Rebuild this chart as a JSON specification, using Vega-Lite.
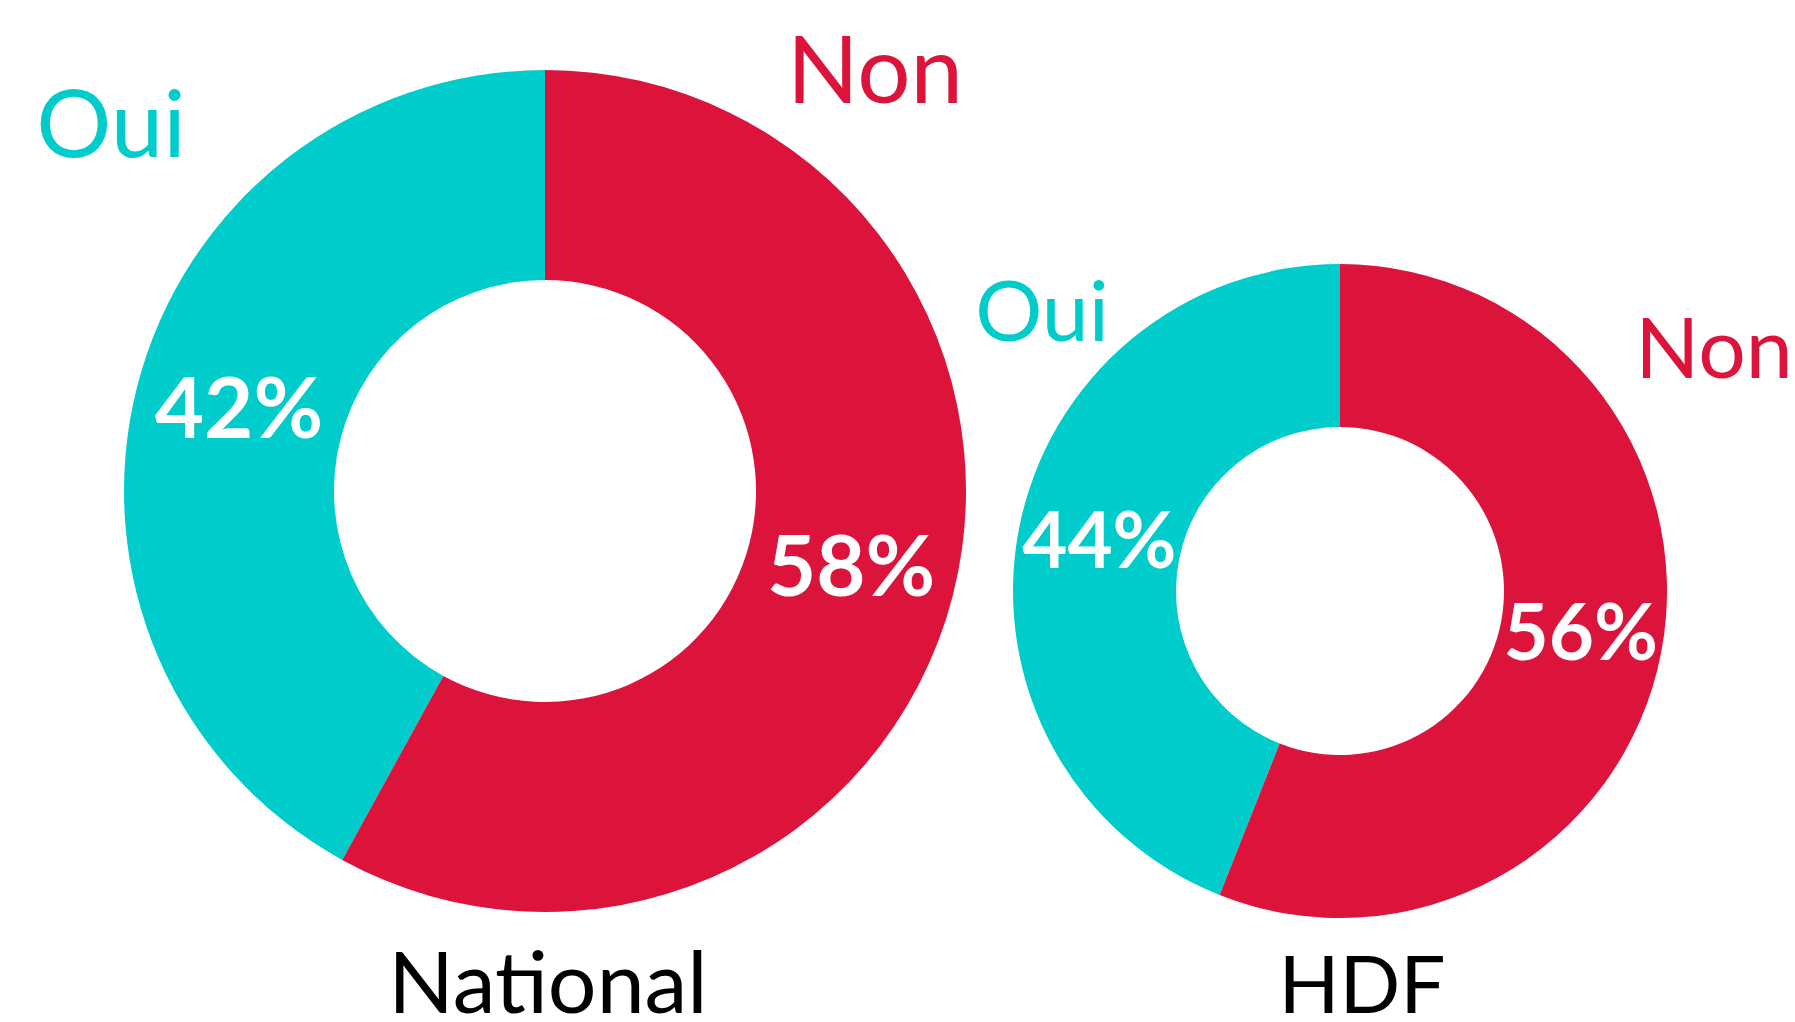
{
  "$schema": "https://vega.github.io/schema/vega-lite/v6.json",
  "autosize": {"type": "none"},
  "width": 1795,
  "height": 1022,
  "padding": 0,
  "background": "white",
  "config": {"view": {"stroke": null}, "font": "Lato"},
  "datasets": {
    "shares": [
      {"chart": "National", "answer": "Oui", "pct": 42, "cx": 545, "cy": 491},
      {"chart": "National", "answer": "Non", "pct": 58, "cx": 545, "cy": 491},
      {"chart": "HDF", "answer": "Oui", "pct": 44, "cx": 1340, "cy": 591},
      {"chart": "HDF", "answer": "Non", "pct": 56, "cx": 1340, "cy": 591}
    ],
    "labels": [
      {"chart": "National", "answer": "Oui", "lx": 111, "ly": 157},
      {"chart": "National", "answer": "Non", "lx": 875, "ly": 103},
      {"chart": "HDF", "answer": "Oui", "lx": 1042, "ly": 341},
      {"chart": "HDF", "answer": "Non", "lx": 1714, "ly": 378}
    ],
    "titles": [
      {"chart": "National", "tx": 548, "ty": 1013},
      {"chart": "HDF", "tx": 1362, "ty": 1013}
    ]
  },
  "resolve": {"scale": {"x": "shared", "y": "shared", "theta": "shared", "color": "shared"}},
  "layer": [
    {
      "data": {"name": "shares"},
      "transform": [{"filter": "datum.chart === 'National'"}],
      "mark": {"type": "arc", "radius": 421, "radius2": 211},
      "encoding": {
        "x": {"field": "cx", "type": "quantitative", "scale": {"domain": [0, 1795], "nice": false, "zero": false}, "axis": null},
        "y": {"field": "cy", "type": "quantitative", "scale": {"domain": [0, 1022], "nice": false, "zero": false, "reverse": true}, "axis": null},
        "theta": {"field": "pct", "type": "quantitative", "stack": true, "scale": {"domain": [0, 100]}},
        "color": {"field": "answer", "type": "nominal", "scale": {"domain": ["Oui", "Non"], "range": ["#00CCCC", "#DC143C"]}, "legend": null},
        "order": {"field": "answer", "sort": "ascending"}
      }
    },
    {
      "data": {"name": "shares"},
      "transform": [{"filter": "datum.chart === 'HDF'"}],
      "mark": {"type": "arc", "radius": 327, "radius2": 164},
      "encoding": {
        "x": {"field": "cx", "type": "quantitative"},
        "y": {"field": "cy", "type": "quantitative"},
        "theta": {"field": "pct", "type": "quantitative", "stack": true},
        "color": {"field": "answer", "type": "nominal", "legend": null},
        "order": {"field": "answer", "sort": "ascending"}
      }
    },
    {
      "data": {"name": "shares"},
      "transform": [{"filter": "datum.chart === 'National'"}, {"calculate": "datum.pct + '%'", "as": "lbl"}],
      "mark": {"type": "text", "radius": 316, "fontSize": 85, "fontWeight": "bold", "color": "white", "align": "center", "baseline": "middle"},
      "encoding": {
        "x": {"field": "cx", "type": "quantitative"},
        "y": {"field": "cy", "type": "quantitative"},
        "theta": {"field": "pct", "type": "quantitative", "stack": true},
        "detail": {"field": "answer"},
        "order": {"field": "answer", "sort": "ascending"},
        "text": {"field": "lbl"}
      }
    },
    {
      "data": {"name": "shares"},
      "transform": [{"filter": "datum.chart === 'HDF'"}, {"calculate": "datum.pct + '%'", "as": "lbl"}],
      "mark": {"type": "text", "radius": 245, "fontSize": 78, "fontWeight": "bold", "color": "white", "align": "center", "baseline": "middle"},
      "encoding": {
        "x": {"field": "cx", "type": "quantitative"},
        "y": {"field": "cy", "type": "quantitative"},
        "theta": {"field": "pct", "type": "quantitative", "stack": true},
        "detail": {"field": "answer"},
        "order": {"field": "answer", "sort": "ascending"},
        "text": {"field": "lbl"}
      }
    },
    {
      "data": {"name": "labels"},
      "transform": [{"filter": "datum.chart === 'National'"}],
      "mark": {"type": "text", "fontSize": 94, "align": "center", "baseline": "alphabetic"},
      "encoding": {
        "x": {"field": "lx", "type": "quantitative"},
        "y": {"field": "ly", "type": "quantitative"},
        "color": {"field": "answer", "type": "nominal", "legend": null},
        "text": {"field": "answer"}
      }
    },
    {
      "data": {"name": "labels"},
      "transform": [{"filter": "datum.chart === 'HDF'"}],
      "mark": {"type": "text", "fontSize": 84, "align": "center", "baseline": "alphabetic"},
      "encoding": {
        "x": {"field": "lx", "type": "quantitative"},
        "y": {"field": "ly", "type": "quantitative"},
        "color": {"field": "answer", "type": "nominal", "legend": null},
        "text": {"field": "answer"}
      }
    },
    {
      "data": {"name": "titles"},
      "transform": [{"filter": "datum.chart === 'National'"}],
      "mark": {"type": "text", "fontSize": 86, "align": "center", "baseline": "alphabetic", "color": "black"},
      "encoding": {
        "x": {"field": "tx", "type": "quantitative"},
        "y": {"field": "ty", "type": "quantitative"},
        "text": {"field": "chart"}
      }
    },
    {
      "data": {"name": "titles"},
      "transform": [{"filter": "datum.chart === 'HDF'"}],
      "mark": {"type": "text", "fontSize": 80, "align": "center", "baseline": "alphabetic", "color": "black"},
      "encoding": {
        "x": {"field": "tx", "type": "quantitative"},
        "y": {"field": "ty", "type": "quantitative"},
        "text": {"field": "chart"}
      }
    }
  ]
}
